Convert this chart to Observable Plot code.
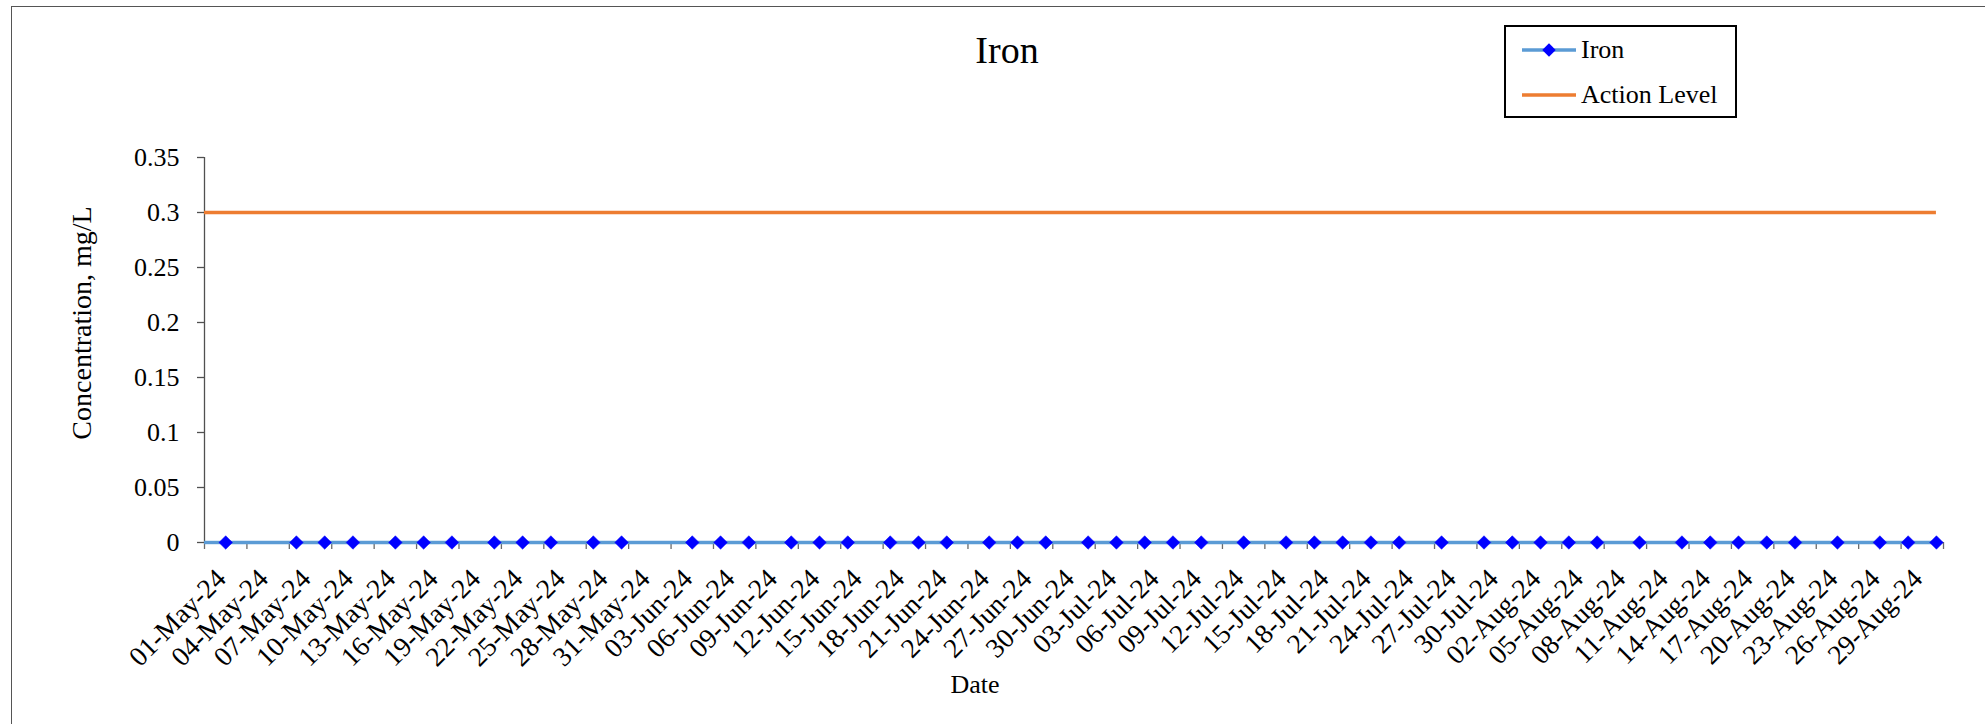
<!DOCTYPE html>
<html>
<head>
<meta charset="utf-8">
<script src="https://cdn.jsdelivr.net/npm/d3@7"></script>
<script src="https://cdn.jsdelivr.net/npm/@observablehq/plot@0.6"></script>
<style>
  html, body { margin: 0; padding: 0; background: #fff; overflow: hidden; }
  body { width: 1985px; height: 724px; position: relative; font-family: "Liberation Serif", "Times New Roman", serif; }
  #frame { position: absolute; left: 11px; top: 6px; width: 3000px; height: 3000px; border-left: 1.5px solid #555; border-top: 1.5px solid #555; box-sizing: border-box; }
  #chart { position: absolute; left: 0; top: 0; }
  #title { position: absolute; left: 1007px; top: 31px; transform: translateX(-50%); font-size: 38px; line-height: 38px; color: #000; white-space: nowrap; margin: 0; font-weight: normal; }
  #legend { position: absolute; left: 1504px; top: 25px; width: 229px; height: 89px; border: 2px solid #000; background: #fff; }
  .item { position: absolute; left: 16px; height: 30px; display: flex; align-items: center; font-size: 26px; color: #000; white-space: nowrap; }
  .item svg { margin-right: 5px; }
</style>
</head>
<body>
<div id="frame"></div>
<div id="chart"></div>
<h1 id="title"></h1>
<div id="legend"></div>
<script>
// ---- data ----
const chartTitle = "Iron";
const seriesNames = ["Iron", "Action Level"];
const xTitle = "Date";
const yTitle = "Concentration, mg/L";

const ironDates = [
  "2024-05-02","2024-05-07","2024-05-09","2024-05-11","2024-05-14","2024-05-16","2024-05-18",
  "2024-05-21","2024-05-23","2024-05-25","2024-05-28","2024-05-30",
  "2024-06-04","2024-06-06","2024-06-08","2024-06-11","2024-06-13","2024-06-15","2024-06-18",
  "2024-06-20","2024-06-22","2024-06-25","2024-06-27","2024-06-29",
  "2024-07-02","2024-07-04","2024-07-06","2024-07-08","2024-07-10","2024-07-13","2024-07-16",
  "2024-07-18","2024-07-20","2024-07-22","2024-07-24","2024-07-27","2024-07-30",
  "2024-08-01","2024-08-03","2024-08-05","2024-08-07","2024-08-10","2024-08-13","2024-08-15",
  "2024-08-17","2024-08-19","2024-08-21","2024-08-24","2024-08-27","2024-08-29","2024-08-31"
];
const ironValues = [
  0,0,0,0,0,0,0,0,0,0,0,0,
  0,0,0,0,0,0,0,0,0,0,0,0,
  0,0,0,0,0,0,0,0,0,0,0,0,0,
  0,0,0,0,0,0,0,0,0,0,0,0,0,0
];
const actionLevel = 0.3;

const xTickLabels = [
  "01-May-24","04-May-24","07-May-24","10-May-24","13-May-24","16-May-24","19-May-24","22-May-24","25-May-24","28-May-24","31-May-24",
  "03-Jun-24","06-Jun-24","09-Jun-24","12-Jun-24","15-Jun-24","18-Jun-24","21-Jun-24","24-Jun-24","27-Jun-24","30-Jun-24",
  "03-Jul-24","06-Jul-24","09-Jul-24","12-Jul-24","15-Jul-24","18-Jul-24","21-Jul-24","24-Jul-24","27-Jul-24","30-Jul-24",
  "02-Aug-24","05-Aug-24","08-Aug-24","11-Aug-24","14-Aug-24","17-Aug-24","20-Aug-24","23-Aug-24","26-Aug-24","29-Aug-24"
];
const yTicks = [0, 0.05, 0.1, 0.15, 0.2, 0.25, 0.3, 0.35];
const yTickLabels = ["0", "0.05", "0.1", "0.15", "0.2", "0.25", "0.3", "0.35"];

// ---- build ----
const parseLabel = d3.utcParse("%d-%b-%y");
const parseISO = d3.utcParse("%Y-%m-%d");
const HALF = 12 * 3600 * 1000;
const labelDates = xTickLabels.map(parseLabel);
const iron = ironDates.map((d, i) => ({date: parseISO(d), value: ironValues[i]}));
const lastDate = iron[iron.length - 1].date;
// each date sits in the middle of its day slot; tick marks sit on slot boundaries
const xStart = new Date(labelDates[0].getTime() - HALF);
const xEnd = new Date(lastDate.getTime() + HALF);
const boundaries = labelDates.map(d => new Date(d.getTime() - HALF)).concat([xEnd]);

const FONT = "Liberation Serif";
const AXIS = "#6a6a6a";
const BLUE = "#5B9BD5";
const ORANGE = "#ED7D31";
const MARK = "#0000FF";

const plot = Plot.plot({
  width: 1985,
  height: 724,
  marginTop: 157,
  marginRight: 42,
  marginBottom: 182,
  marginLeft: 204,
  style: {fontFamily: FONT, fontSize: "26px", color: "#000", background: "transparent", overflow: "visible"},
  x: {type: "utc", domain: [xStart, xEnd], axis: null},
  y: {domain: [0, 0.35], axis: null},
  marks: [
    // axes lines
    Plot.ruleX([xStart], {stroke: "#505050", strokeWidth: 1.3}),
    Plot.ruleY([0], {stroke: AXIS, strokeWidth: 1.3}),
    Plot.axisY(yTicks, {
      anchor: "left", tickSize: 7, tickPadding: 18, stroke: "#505050", strokeWidth: 1.3,
      tickFormat: (d) => yTickLabels[yTicks.indexOf(d)], fontSize: 26, fill: "#000", label: null
    }),
    Plot.axisX(boundaries, {anchor: "bottom", tickSize: 7, stroke: AXIS, strokeWidth: 1.3, tickFormat: () => "", label: null}),
    Plot.text(labelDates, {
      x: d => d, text: (d, i) => xTickLabels[i], frameAnchor: "bottom",
      rotate: -45, textAnchor: "end", lineAnchor: "top", dx: 2, dy: 24, fontSize: 27.5, fill: "#000"
    }),
    // axis titles
    Plot.text([yTitle], {frameAnchor: "left", textAnchor: "middle", lineAnchor: "middle", rotate: -90, dx: -122, dy: -27, fontSize: 28, fill: "#000"}),
    Plot.text([xTitle], {frameAnchor: "bottom", textAnchor: "middle", lineAnchor: "middle", dx: -99, dy: 142, fontSize: 26, fill: "#000"}),
    // action level
    Plot.ruleY([actionLevel], {x1: xStart, x2: lastDate, stroke: ORANGE, strokeWidth: 3.4}),
    // iron series
    Plot.ruleY([iron[0].value], {x1: xStart, x2: iron[0].date, stroke: BLUE, strokeWidth: 3.4}),
    Plot.lineY(iron, {x: "date", y: "value", stroke: BLUE, strokeWidth: 3.4}),
    Plot.dot(iron, {x: "date", y: "value", symbol: "diamond2", r: 6.1, fill: MARK, stroke: MARK, strokeWidth: 0.5})
  ]
});
document.getElementById("chart").appendChild(plot);

// title
document.getElementById("title").textContent = chartTitle;

// legend
const legend = document.getElementById("legend");
const rows = [
  {name: seriesNames[0], color: BLUE, marker: true, top: 8},
  {name: seriesNames[1], color: ORANGE, marker: false, top: 53}
];
rows.forEach(r => {
  const item = document.createElement("div");
  item.className = "item";
  item.style.top = r.top + "px";
  const svg = d3.create("svg").attr("width", 54).attr("height", 16);
  svg.append("line").attr("x1", 0).attr("x2", 54).attr("y1", 8).attr("y2", 8)
    .attr("stroke", r.color).attr("stroke-width", 3.4);
  if (r.marker) {
    svg.append("path").attr("d", d3.symbol(d3.symbolDiamond2, 115)())
      .attr("transform", "translate(27,8)").attr("fill", MARK);
  }
  item.appendChild(svg.node());
  const label = document.createElement("span");
  label.textContent = r.name;
  item.appendChild(label);
  legend.appendChild(item);
});
</script>
</body>
</html>
